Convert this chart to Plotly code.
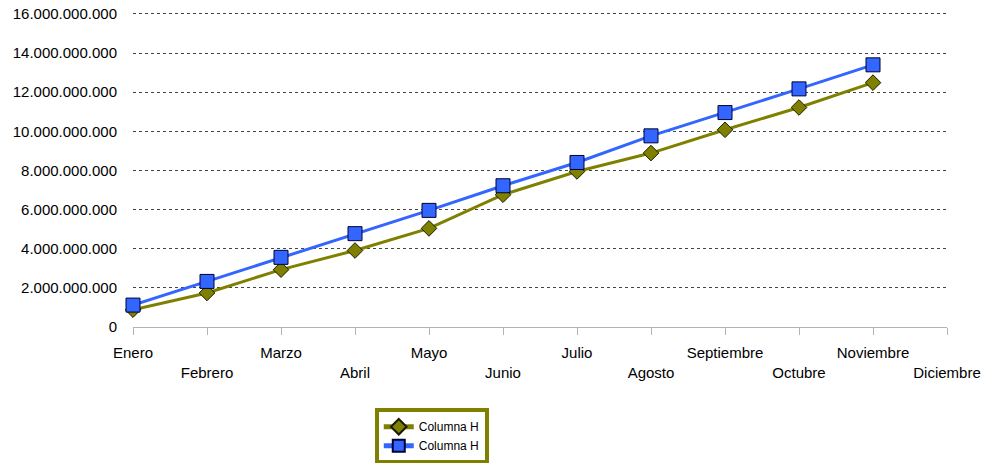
import plotly.graph_objects as go

months = ["Enero", "Febrero", "Marzo", "Abril", "Mayo", "Junio", "Julio",
          "Agosto", "Septiembre", "Octubre", "Noviembre", "Diciembre"]
serie_olive = [0.885e9, 1.74e9, 2.93e9, 3.91e9, 5.04e9, 6.76e9, 7.95e9,
               8.89e9, 10.08e9, 11.22e9, 12.49e9, None]
serie_blue = [1.12e9, 2.33e9, 3.56e9, 4.77e9, 5.96e9, 7.22e9, 8.41e9,
              9.77e9, 10.96e9, 12.17e9, 13.40e9, None]
y_ticks = [0, 2e9, 4e9, 6e9, 8e9, 10e9, 12e9, 14e9, 16e9]

# staggered category labels
tick_text = [m if i % 2 == 0 else "<br>" + m for i, m in enumerate(months)]

FONT = "Liberation Sans, Arial, sans-serif"

fig = go.Figure()
fig.add_trace(go.Scatter(
    x=months, y=serie_olive, name="Columna H", mode="lines+markers",
    line=dict(color="#808000", width=3),
    marker=dict(symbol="diamond", size=12, color="#808000",
                line=dict(color="#1a1a00", width=1)),
    cliponaxis=False,
))
fig.add_trace(go.Scatter(
    x=months, y=serie_blue, name="Columna H", mode="lines+markers",
    line=dict(color="#3366FF", width=3),
    marker=dict(symbol="square", size=14, color="#3366FF",
                line=dict(color="#000033", width=1)),
    cliponaxis=False,
))

fig.update_layout(
    width=985, height=463,
    margin=dict(l=133, r=38, t=12, b=136, autoexpand=False),
    paper_bgcolor="white", plot_bgcolor="white",
    separators=",.",
    font=dict(family=FONT, size=15, color="black"),
    showlegend=True,
    legend=dict(
        x=0.297, y=-0.258, xanchor="left", yanchor="top",
        bordercolor="#808000", borderwidth=4, bgcolor="white",
        font=dict(family=FONT, size=12, color="black"),
        tracegroupgap=0, itemwidth=30, itemsizing="constant",
    ),
    xaxis=dict(
        type="category", categoryorder="array", categoryarray=months,
        range=[0, 11], automargin=False,
        tickmode="array", tickvals=months, ticktext=tick_text,
        showline=True, linecolor="#b3b3b3", linewidth=1,
        ticks="outside", ticklen=7, tickcolor="#b3b3b3", tickwidth=1,
        ticklabelstandoff=5, ticklabeloverflow="allow",
        showgrid=False, zeroline=False,
        tickfont=dict(family=FONT, size=15, color="black"),
    ),
    yaxis=dict(
        range=[0, 16.1e9], tickmode="array", tickvals=y_ticks,
        tickformat=",d", automargin=False, ticklabeloverflow="allow",
        showgrid=True, gridcolor="#444444", gridwidth=1, griddash="dot",
        zeroline=False, showline=False,
        ticks="outside", ticklen=12, tickcolor="rgba(0,0,0,0)",
        tickfont=dict(family=FONT, size=15, color="black"),
    ),
)

fig.write_html("out.html", config={"displayModeBar": False},
               post_script="document.body.style.margin='0px';")
